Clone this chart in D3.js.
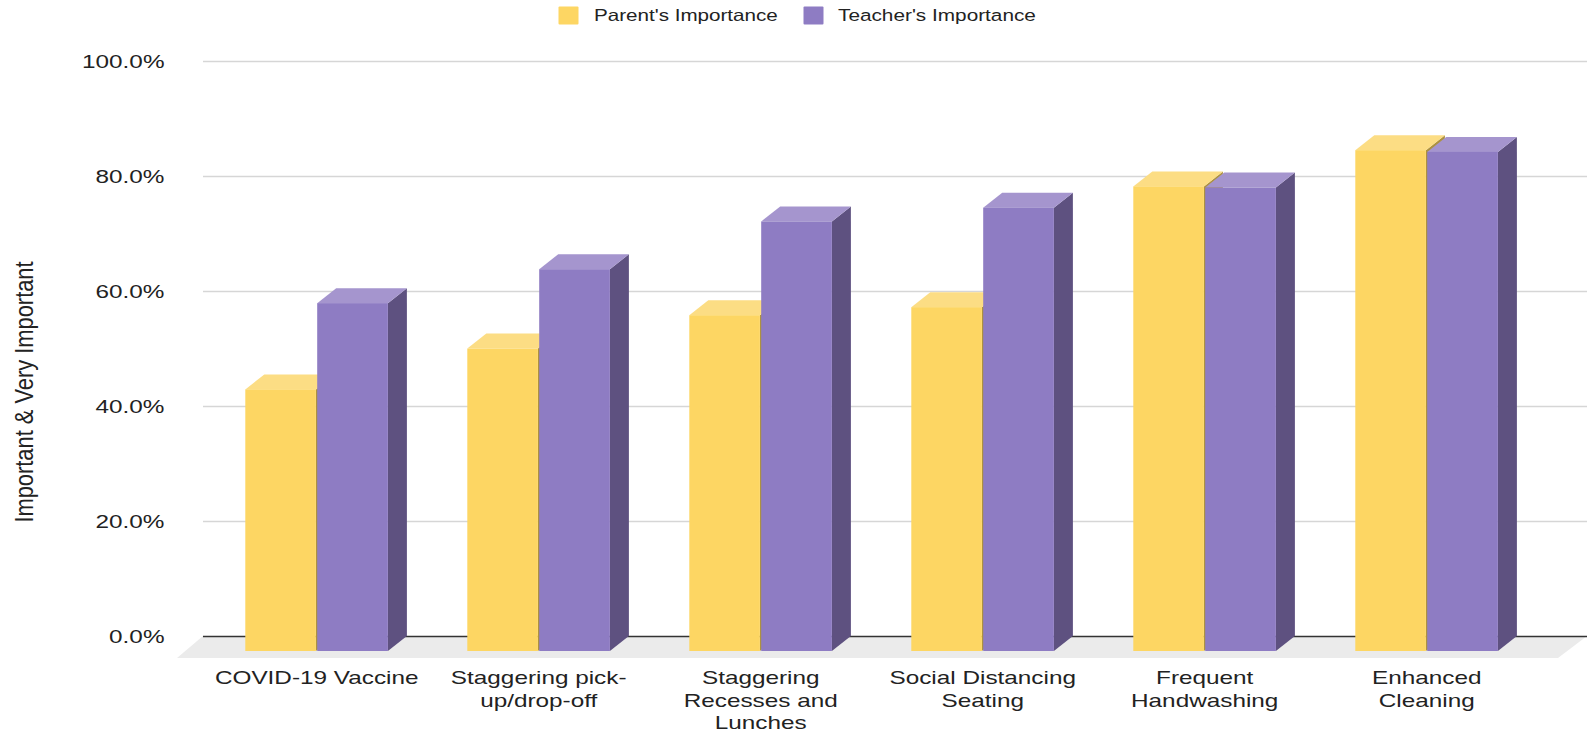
<!DOCTYPE html>
<html><head><meta charset="utf-8">
<script src="https://cdn.jsdelivr.net/npm/d3@7/dist/d3.min.js"></script>
<style>
html,body{margin:0;padding:0;background:#fff;overflow:hidden}
svg{display:block}
text{font-family:"Liberation Sans",Arial,sans-serif;fill:#222}
</style></head><body>
<script>
const categories=["COVID-19 Vaccine","Staggering pick-up/drop-off","Staggering Recesses and Lunches","Social Distancing Seating","Frequent Handwashing","Enhanced Cleaning"];
const categoryLines=[["COVID-19 Vaccine"],["Staggering pick-","up/drop-off"],["Staggering","Recesses and","Lunches"],["Social Distancing","Seating"],["Frequent","Handwashing"],["Enhanced","Cleaning"]];
const seriesNames=["Parent's Importance","Teacher's Importance"];
const parents=[45.5,52.6,58.4,59.8,80.8,87.1];
const teachers=[60.5,66.4,74.7,77.1,80.6,86.8];
const yTicks=[0,20,40,60,80,100];
const yTitle="Important & Very Important";

const W=1589,H=733;
const svg=d3.select("body").append("svg").attr("width",W).attr("height",H);
const y=d3.scaleLinear().domain([0,100]).range([636,61]);
const x0=d3.scaleBand().domain(categories).range([205.7,1537.7]);
const x1=d3.scaleBand().domain(seriesNames).range([0,142.8]);
const colors={[seriesNames[0]]:{front:"#fdd663",top:"#fcdd84",side:"#ad9240"},[seriesNames[1]]:{front:"#8e7cc3",top:"#a595ce",side:"#5e5180"}};
const DX=19,DY=15;

// floor
const fy=y(0);
svg.append("polygon").attr("points",[[203,fy],[1587,fy],[1558,fy+22],[177,fy+22]].join(" ")).attr("fill","#ebebeb");

// y axis + gridlines
const yAxis=svg.append("g").attr("transform","translate(203,0)")
  .call(d3.axisLeft(y).tickValues(yTicks).tickSize(-1384).tickPadding(0).tickFormat(d=>d3.format(".1f")(d)+"%"));
yAxis.select(".domain").remove();
yAxis.selectAll(".tick line").attr("stroke",d=>d===0?"#333":"#d6d6d6").attr("stroke-width",d=>d===0?1.4:1.6);
yAxis.selectAll(".tick text").attr("x",0).attr("y",0).attr("dy",null)
  .attr("text-anchor","end").attr("font-size",19).attr("fill","#222")
  .attr("transform","translate(-38.5,6.5) scale(1.28,1)");

// category axis
const xb=d3.axisBottom(x0).tickSize(0).tickPadding(0).tickFormat("");
const xAxis=svg.append("g").attr("transform","translate(0,636)").call(xb);
xAxis.select(".domain").remove();
xAxis.selectAll(".tick text").remove();
xAxis.selectAll(".tick").each(function(d,i){
  const t=d3.select(this).append("text").attr("text-anchor","middle").attr("font-size",19).attr("fill","#222")
    .attr("transform","scale(1.28,1)");
  categoryLines[i].forEach((l,j)=>t.append("tspan").attr("x",0).attr("y",48.5+j*22.2).text(l));
});

// bars
const groups=svg.selectAll(".group").data(categories).join("g").attr("class","group")
  .attr("transform",d=>`translate(${x0(d)+x0.bandwidth()/2-x1.bandwidth()},0)`);
[parents,teachers].forEach((vals,si)=>{
  const name=seriesNames[si],c=colors[name];
  groups.each(function(d,i){
    const g=d3.select(this);
    const l=x1(name)+(si===1?0.5:0),w=x1.bandwidth()-(si===1?0.7:0.8),r=l+w;
    const top=y(vals[i])+DY,bot=y(0)+DY;
    g.append("polygon").attr("points",[[r,top],[r+DX,top-DY],[r+DX,bot-DY],[r,bot]].join(" ")).attr("fill",c.side);
    g.append("polygon").attr("points",[[l,top],[l+DX,top-DY],[r+DX,top-DY],[r,top]].join(" ")).attr("fill",c.top);
    g.append("rect").attr("x",l).attr("y",top).attr("width",w).attr("height",bot-top).attr("fill",c.front);
  });
});

// y title
svg.append("text").attr("text-anchor","middle").attr("font-size",25)
  .attr("transform","translate(33,392) rotate(-90) scale(0.875,1)").text(yTitle);

// legend
const lg=[{x:558.5,tx:594,s:1.25},{x:803.5,tx:838,s:1.26}];
seriesNames.forEach((n,i)=>{
  svg.append("rect").attr("x",lg[i].x).attr("y",6.5).attr("width",20).attr("height",18).attr("rx",1).attr("fill",colors[n].front);
  svg.append("text").attr("text-anchor","start").attr("font-size",16.5)
    .attr("transform",`translate(${lg[i].tx},21) scale(${lg[i].s},1)`).text(n);
});
</script>
</body></html>
